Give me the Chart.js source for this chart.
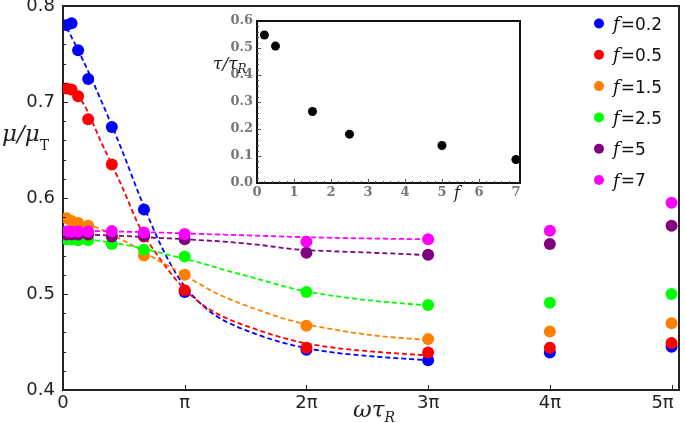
<!DOCTYPE html>
<html lang="en">
<head>
<meta charset="UTF-8">
<title>Mobility vs driving frequency</title>
<script src="https://cdn.jsdelivr.net/npm/chart.js"></script>
<style>
  body { margin: 0; background: #fff; }
  #wrap { position: relative; width: 685px; height: 423px; }
  #main { position: absolute; left: 0; top: 0; }
  #inset { position: absolute; left: 200px; top: 8px; }
</style>
</head>
<body>
<div id="wrap">
  <canvas id="main" width="685" height="423"></canvas>
  <canvas id="inset" width="330" height="200"></canvas>
</div>
<script>
// ---- data ----
const X_TICK_LABELS = ['0', 'π', '2π', '3π', '4π', '5π'];
const Y_TICKS = [0.4, 0.5, 0.6, 0.7, 0.8];
const F_LABELS = ['0.2', '0.5', '1.5', '2.5', '5', '7'];
const COLORS = ['#0000ff', '#ff0000', '#ff8000', '#00ff00', '#800080', '#ff00ff'];

// ωτ_R of the measured points
const OMEGA = [0.09, 0.22, 0.39, 0.65, 1.26, 2.09, Math.PI, 2 * Math.PI, 3 * Math.PI, 4 * Math.PI, 5 * Math.PI];
const MU_F02 = [0.780, 0.782, 0.754, 0.724, 0.674, 0.588, 0.502, 0.442, 0.431, 0.439, 0.445];
const MU_F05 = [0.714, 0.713, 0.706, 0.682, 0.635, 0.560, 0.504, 0.444, 0.439, 0.444, 0.449];
const MU_F15 = [0.579, 0.576, 0.574, 0.571, 0.562, 0.540, 0.520, 0.467, 0.453, 0.461, 0.4695];
const MU_F25 = [0.557, 0.557, 0.556, 0.556, 0.552, 0.546, 0.539, 0.502, 0.4885, 0.491, 0.500];
const MU_F5 = [0.562, 0.562, 0.562, 0.562, 0.560, 0.561, 0.557, 0.543, 0.541, 0.552, 0.571];
const MU_F7 = [0.565, 0.565, 0.565, 0.565, 0.5655, 0.564, 0.5625, 0.5545, 0.557, 0.566, 0.595];

// dashed fit curves
const FIT_X = [0, 0.5, 1, 1.5, 2, 2.5, 3, 3.5, 4, 5, 6, 7, 8, 9.42];
const FIT_F02 = [0.785, 0.745, 0.700, 0.652, 0.600, 0.553, 0.516, 0.492, 0.476, 0.458, 0.446, 0.439, 0.435, 0.431];
const FIT_F05 = [0.718, 0.700, 0.657, 0.614, 0.568, 0.537, 0.511, 0.492, 0.479, 0.463, 0.451, 0.444, 0.440, 0.436];
const FIT_F15 = [0.578, 0.574, 0.567, 0.557, 0.546, 0.534, 0.523, 0.511, 0.500, 0.484, 0.471, 0.463, 0.457, 0.452];
const FIT_F25 = [0.558, 0.557, 0.555, 0.552, 0.548, 0.543, 0.538, 0.533, 0.527, 0.516, 0.505, 0.498, 0.493, 0.488];
const FIT_F5 = [0.562, 0.5618, 0.5613, 0.5605, 0.5595, 0.5583, 0.5575, 0.5562, 0.555, 0.5515, 0.5465, 0.5445, 0.543, 0.5405];
const FIT_F7 = [0.566, 0.5658, 0.5655, 0.565, 0.5645, 0.564, 0.5633, 0.5627, 0.562, 0.5608, 0.5595, 0.5585, 0.5578, 0.557];

// inset: relaxation time vs f
const TAU_F = [0.2, 0.5, 1.5, 2.5, 5, 7];
const TAU_VALUES = [0.548, 0.507, 0.265, 0.181, 0.139, 0.087];

const SERIES = [MU_F02, MU_F05, MU_F15, MU_F25, MU_F5, MU_F7];
const FITS = [FIT_F02, FIT_F05, FIT_F15, FIT_F25, FIT_F5, FIT_F7];

const AXIS_COLOR = '#222';

const datasets = [];
SERIES.forEach((vals, i) => {
    datasets.push({
        type: 'scatter',
        label: 'f=' + F_LABELS[i],
        data: OMEGA.map((x, j) => ({ x: x, y: vals[j] })),
        backgroundColor: COLORS[i],
        borderColor: COLORS[i],
        pointRadius: 6,
        pointBorderWidth: 0,
        order: 5 - i
    });
    datasets.push({
        type: 'line',
        label: 'fit ' + F_LABELS[i],
        data: FIT_X.map((x, j) => ({ x: x, y: FITS[i][j] })),
        borderColor: COLORS[i],
        borderWidth: 1.8,
        borderDash: [5, 3],
        pointRadius: 0,
        fill: false,
        cubicInterpolationMode: 'monotone',
        order: 20 - i
    });
});

// frame, inward ticks, titles and legend
const mainDecor = {
    id: 'mainDecor',
    afterDraw(chart) {
        const { ctx, chartArea: a, scales: { x, y } } = chart;
        ctx.save();
        ctx.strokeStyle = AXIS_COLOR;
        ctx.lineWidth = 2;
        ctx.beginPath();
        ctx.moveTo(a.left, a.top);
        ctx.lineTo(a.right, a.top);
        ctx.lineTo(a.right, a.bottom);
        ctx.stroke();

        ctx.lineWidth = 1;
        ctx.beginPath();
        for (let i = 0; i <= 20; i++) {
            const py = Math.round(y.getPixelForValue(0.4 + i * 0.02)) + 0.5;
            const len = i % 5 === 0 ? 5 : 3;
            ctx.moveTo(a.left, py);
            ctx.lineTo(a.left + len, py);
        }
        for (let k = 1; k < X_TICK_LABELS.length; k++) {
            const px = Math.round(x.getPixelForValue(k * Math.PI)) + 0.5;
            ctx.moveTo(px, a.bottom);
            ctx.lineTo(px, a.bottom - 5);
        }
        ctx.stroke();

        // y title  μ/μ_T
        ctx.fillStyle = AXIS_COLOR;
        ctx.textBaseline = 'alphabetic';
        ctx.textAlign = 'left';
        ctx.font = 'italic 23px "DejaVu Serif"';
        ctx.fillText('μ/μ', 2, 141);
        let w = ctx.measureText('μ/μ').width;
        ctx.font = '14px "DejaVu Serif"';
        ctx.fillText('T', 2 + w, 150);

        // x title  ωτ_R
        ctx.font = 'italic 23px "DejaVu Serif"';
        ctx.fillText('ωτ', 353, 417);
        w = ctx.measureText('ωτ').width;
        ctx.font = 'italic 14px "DejaVu Serif"';
        ctx.fillText('R', 353 + w, 422);

        // legend
        F_LABELS.forEach((lab, i) => {
            const cy = 23.5 + i * 31.3;
            ctx.fillStyle = COLORS[i];
            ctx.beginPath();
            ctx.arc(599, cy, 5, 0, Math.PI * 2);
            ctx.fill();
            ctx.fillStyle = '#111';
            ctx.textBaseline = 'middle';
            ctx.font = 'italic 18px "DejaVu Serif"';
            ctx.fillText('f', 613, cy + 2);
            const fw = ctx.measureText('f').width;
            ctx.font = '17px "DejaVu Sans"';
            ctx.fillText('=' + lab, 613 + fw + 1, cy + 2);
        });
        ctx.restore();
    }
};

new Chart(document.getElementById('main'), {
    type: 'scatter',
    data: { datasets: datasets },
    options: {
        responsive: false,
        animation: false,
        layout: { padding: { left: 0, top: 6, right: 2, bottom: 0 } },
        plugins: { legend: { display: false }, tooltip: { enabled: false } },
        scales: {
            x: {
                type: 'linear',
                min: 0,
                max: 15.9,
                afterBuildTicks: s => { s.ticks = X_TICK_LABELS.map((_, k) => ({ value: k * Math.PI })); },
                ticks: {
                    autoSkip: false,
                    maxRotation: 0,
                    padding: 3,
                    color: AXIS_COLOR,
                    font: { family: 'DejaVu Sans', size: 18 },
                    callback: v => {
                        const k = Math.round(v / Math.PI);
                        return k === X_TICK_LABELS.length - 1 ? X_TICK_LABELS[k] + '\u2003' : X_TICK_LABELS[k];
                    }
                },
                grid: { display: false, drawTicks: false },
                border: { color: AXIS_COLOR, width: 2 },
                afterFit: s => { s.height = 33; s.paddingLeft = 0; s.paddingRight = 0; }
            },
            y: {
                min: 0.4,
                max: 0.8,
                afterBuildTicks: s => { s.ticks = Y_TICKS.map(v => ({ value: v })); },
                ticks: {
                    padding: 8,
                    color: AXIS_COLOR,
                    font: { family: 'DejaVu Sans', size: 18 },
                    callback: v => v.toFixed(1)
                },
                grid: { display: false, drawTicks: false },
                border: { color: AXIS_COLOR, width: 2 },
                afterFit: s => { s.width = 63; s.paddingTop = 0; s.paddingBottom = 0; }
            }
        }
    },
    plugins: [mainDecor]
});

// ---- inset ----
const insetDecor = {
    id: 'insetDecor',
    beforeDraw(chart) {
        const ctx = chart.ctx;
        ctx.save();
        ctx.fillStyle = '#fff';
        ctx.fillRect(0, 0, chart.width, chart.height);
        ctx.restore();
    },
    afterDraw(chart) {
        const { ctx, chartArea: a, scales: { x, y } } = chart;
        ctx.save();
        ctx.strokeStyle = '#111';
        ctx.lineWidth = 2;
        ctx.strokeRect(a.left, a.top, a.right - a.left, a.bottom - a.top);

        ctx.strokeStyle = '#555';
        ctx.lineWidth = 1;
        ctx.beginPath();
        for (let i = 1; i < 35; i++) {
            const px = Math.round(x.getPixelForValue(i * 0.2)) + 0.5;
            const len = i % 5 === 0 ? 4 : 2;
            ctx.moveTo(px, a.bottom);
            ctx.lineTo(px, a.bottom - len);
        }
        for (let i = 1; i < 30; i++) {
            const py = Math.round(y.getPixelForValue(i * 0.02)) + 0.5;
            const len = i % 5 === 0 ? 4 : 2;
            ctx.moveTo(a.left, py);
            ctx.lineTo(a.left + len, py);
        }
        ctx.stroke();

        ctx.fillStyle = '#222';
        ctx.textAlign = 'left';
        ctx.textBaseline = 'alphabetic';
        ctx.font = 'italic 17px "DejaVu Serif"';
        ctx.fillText('τ/τ', 13, 61);
        const w = ctx.measureText('τ/τ').width;
        ctx.font = 'italic 12px "DejaVu Serif"';
        ctx.fillText('R', 13 + w, 65);

        ctx.font = 'italic 16px "DejaVu Serif"';
        ctx.fillText('f', 254, 190);
        ctx.restore();
    }
};

const INSET_TICK_FONT = { family: 'DejaVu Serif', size: 13, weight: 'bold' };

new Chart(document.getElementById('inset'), {
    type: 'scatter',
    data: {
        datasets: [{
            label: 'τ/τR',
            data: TAU_F.map((f, i) => ({ x: f, y: TAU_VALUES[i] })),
            backgroundColor: '#000',
            borderColor: '#000',
            pointRadius: 4.5,
            pointBorderWidth: 0
        }]
    },
    options: {
        responsive: false,
        animation: false,
        layout: { padding: { left: 0, top: 13, right: 10, bottom: 0 } },
        plugins: { legend: { display: false }, tooltip: { enabled: false } },
        scales: {
            x: {
                type: 'linear',
                min: 0,
                max: 7.11,
                afterBuildTicks: s => { s.ticks = [0, 1, 2, 3, 4, 5, 6, 7].map(v => ({ value: v })); },
                ticks: { autoSkip: false, maxRotation: 0, padding: 2, color: '#777', font: INSET_TICK_FONT },
                grid: { display: false, drawTicks: false },
                border: { display: false },
                afterFit: s => { s.height = 25; s.paddingLeft = 0; s.paddingRight = 0; }
            },
            y: {
                min: 0,
                max: 0.6,
                afterBuildTicks: s => { s.ticks = [0, 0.1, 0.2, 0.3, 0.4, 0.5, 0.6].map(v => ({ value: v })); },
                ticks: { padding: 4, color: '#777', font: INSET_TICK_FONT, callback: v => v.toFixed(1) },
                grid: { display: false, drawTicks: false },
                border: { display: false },
                afterFit: s => { s.width = 57; s.paddingTop = 0; s.paddingBottom = 0; }
            }
        }
    },
    plugins: [insetDecor]
});
</script>
</body>
</html>
